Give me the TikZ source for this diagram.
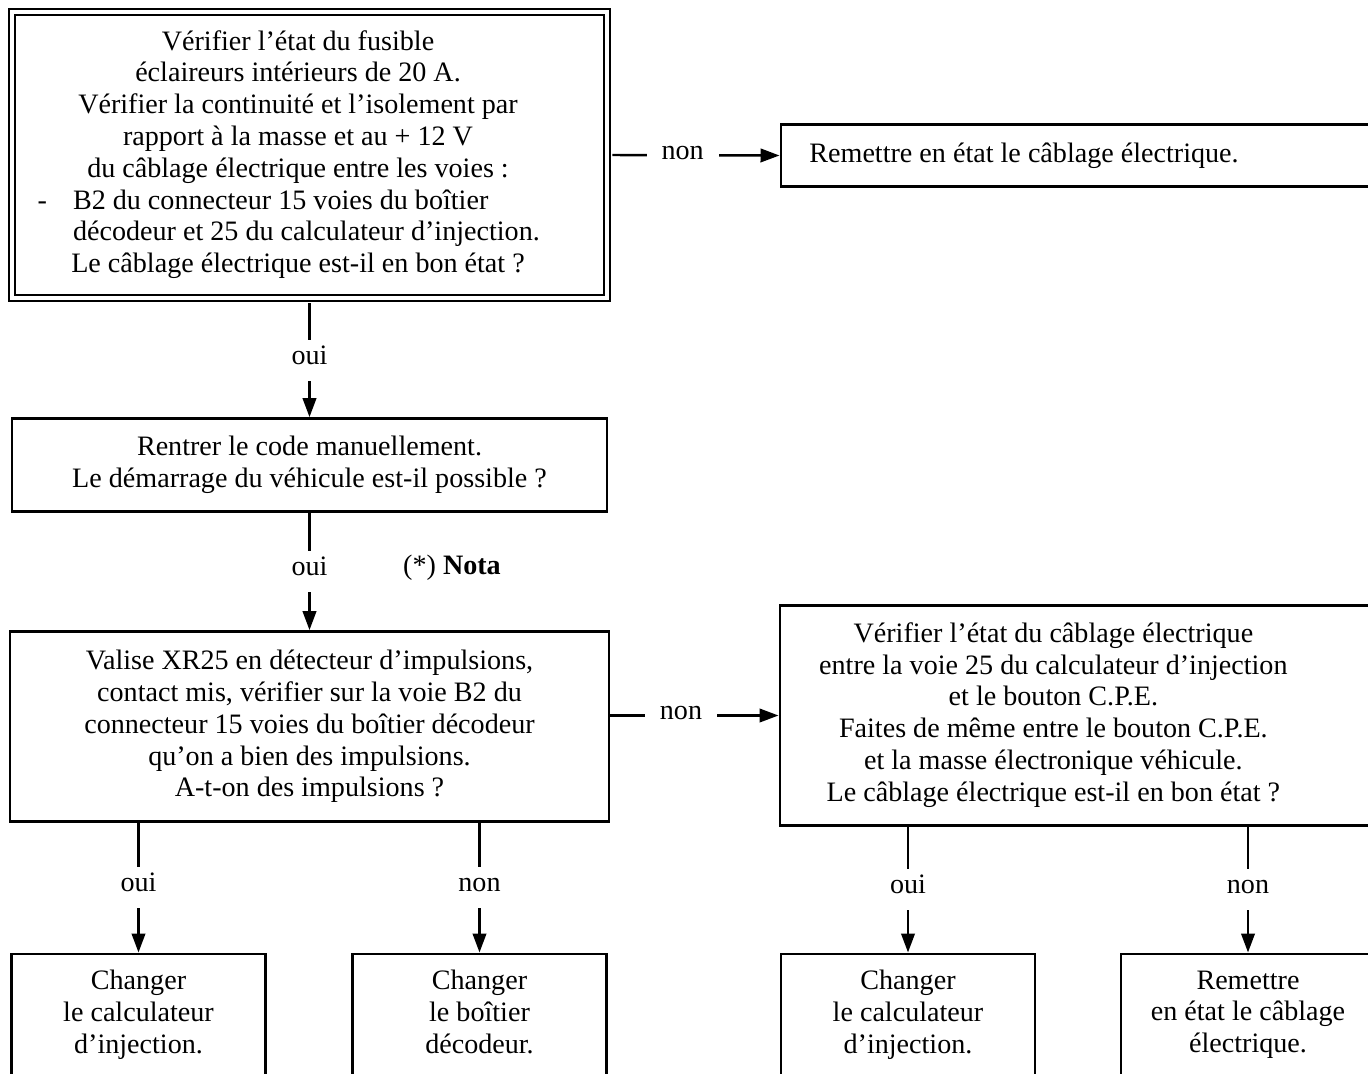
\documentclass[tikz,border=0pt]{standalone}
\usepackage{fontspec}
\setmainfont{Liberation Serif}
\usetikzlibrary{arrows.meta}
\tikzset{
  cadre/.style={draw, line width=1.6pt, inner sep=0pt},
  dblcadre/.style={draw, double, line width=1.4pt, double distance=0.07cm, inner sep=0pt},
  finbox/.style={cadre, align=center, minimum width=5.08cm, minimum height=2.5cm, anchor=north},
  lbl/.style={fill=white, inner xsep=0.3cm, inner ysep=0pt, minimum height=0.82cm, text height=1ex, text depth=0pt},
  fleche/.style={line width=1.4pt, -{Triangle[length=0.38cm,width=0.27cm]}}
}

\begin{document}
\begin{tikzpicture}[x=0.02cm, y=-0.02cm, every node/.style={font=\fontsize{16}{18.1}\selectfont}]
  \useasboundingbox (0,0) rectangle (1368,1074);
  \clip (0,0) rectangle (1368,1074);
  \fill[white] (0,0) rectangle (1368,1074);

  % boites de test
  \node[dblcadre, minimum width=11.9cm, minimum height=5.72cm] (fusible) at (309.5,155) {\begin{tabular}{@{}c@{}}
    Vérifier l’état du fusible\\
    éclaireurs intérieurs de 20 A.\\
    Vérifier la continuité et l’isolement par\\
    rapport à la masse et au + 12 V\\
    du câblage électrique entre les voies :\\
    \makebox[9cm][l]{\llap{-\hspace{0.52cm}}B2 du connecteur 15 voies du boîtier}\\
    \makebox[9cm][l]{décodeur et 25 du calculateur d’injection.}\\
    Le câblage électrique est-il en bon état ?
  \end{tabular}\hspace*{0.46cm}};
  \node[cadre, anchor=west, minimum height=1.24cm, inner xsep=0.57cm] (remise) at (779.5,155.5)
    {Remettre en état le câblage électrique.\hspace*{3cm}};

  \node[cadre, align=center, minimum width=11.9cm, minimum height=1.86cm] (code) at (309.5,465)
    {Rentrer le code manuellement.\\Le démarrage du véhicule est-il possible ?};
  \node (nota) at (452,568) {(*) \textbf{Nota}};

  \node[cadre, align=center, minimum width=11.98cm, minimum height=3.8cm] (impuls) at (309.5,726.5) {%
    Valise XR25 en détecteur d’impulsions,\\
    contact mis, vérifier sur la voie B2 du\\
    connecteur 15 voies du boîtier décodeur\\
    qu’on a bien des impulsions.\\
    A-t-on des impulsions ?};
  \node[cadre, anchor=west, minimum height=4.4cm] (cpe) at (778.5,715.5) {\makebox[10.94cm][c]{\begin{tabular}{@{}c@{}}
    Vérifier l’état du câblage électrique\\
    entre la voie 25 du calculateur d’injection\\
    et le bouton C.P.E.\\
    Faites de même entre le bouton C.P.E.\\
    et la masse électronique véhicule.\\
    Le câblage électrique est-il en bon état ?
  \end{tabular}}\hspace*{3cm}};

  % actions
  \node[finbox] (calc1) at (138.5,952.5) {Changer\\le calculateur\\d’injection.\strut};
  \node[finbox] (decod) at (479.5,952.5) {Changer\\le boîtier\\décodeur.\strut};
  \node[finbox] (calc2) at (908,952.5) {Changer\\le calculateur\\d’injection.\strut};
  \node[finbox] (remise2) at (1248,952.5) {Remettre\\en état le câblage\\électrique.\strut};

  % liaisons
  \draw[fleche] ([xshift=0.085cm]fusible.east) -- node[lbl, pos=0.42] {non} (remise.west);
  \draw[fleche] ([yshift=-0.085cm]fusible.south) -- node[lbl] {oui} (code.north);
  \draw[fleche] (code.south) -- node[lbl] {oui} (impuls.north);
  \draw[fleche] (impuls.east |- cpe.west) -- node[lbl, pos=0.42] {non} (cpe.west);
  \draw[fleche] (impuls.south -| calc1.north) -- node[lbl] {oui} (calc1.north);
  \draw[fleche] (impuls.south -| decod.north) -- node[lbl] {non} (decod.north);
  \draw[fleche] (cpe.south -| calc2.north) -- node[lbl] {oui} (calc2.north);
  \draw[fleche] (cpe.south -| remise2.north) -- node[lbl] {non} (remise2.north);
\end{tikzpicture}
\end{document}
